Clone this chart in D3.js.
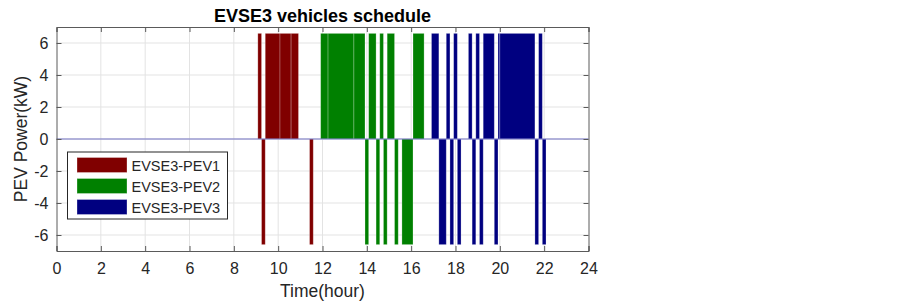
<!DOCTYPE html>
<html>
<head>
<meta charset="utf-8">
<script src="https://cdn.jsdelivr.net/npm/d3@7"></script>
<style>
  body { margin: 0; background: #fff; }
  svg { font-family: "Liberation Sans", Arial, sans-serif; }
</style>
</head>
<body>
<svg id="chart" width="903" height="302"></svg>
<script>
// segments: [start hour, end hour, power kW]
const pev1 = [
  [9.083, 9.25, 6.6], [9.25, 9.417, -6.6], [9.417, 10.083, 6.6],
  [10.083, 10.583, 6.6], [10.583, 10.917, 6.6], [11.417, 11.583, -6.6]
];
const pev2 = [
  [11.917, 12.25, 6.6], [12.25, 13.417, 6.6], [13.417, 13.917, 6.6],
  [13.917, 14.083, -6.6], [14.083, 14.417, 6.6], [14.417, 14.583, -6.6],
  [14.583, 14.75, 6.6], [14.75, 14.917, -6.6], [14.917, 15.25, 6.6],
  [15.25, 15.417, -6.6], [15.583, 16.083, -6.6], [16.083, 16.583, 6.6]
];
const pev3 = [
  [16.917, 17.25, 6.6], [17.25, 17.583, -6.6], [17.583, 17.75, 6.6],
  [17.75, 17.917, -6.6], [17.917, 18.083, 6.6], [18.083, 18.25, -6.6],
  [18.583, 18.75, 6.6], [18.75, 18.917, -6.6], [18.917, 19.083, 6.6],
  [19.083, 19.25, -6.6], [19.25, 19.75, 6.6], [19.75, 19.917, -6.6],
  [19.917, 20.0, 6.6], [20.0, 21.583, 6.6], [21.583, 21.75, -6.6],
  [21.75, 21.917, 6.6], [21.917, 22.083, -6.6]
];
const seriesNames = ["EVSE3-PEV1", "EVSE3-PEV2", "EVSE3-PEV3"];
const seriesColors = ["#800000", "#008000", "#000080"];
const xTicks = [0, 2, 4, 6, 8, 10, 12, 14, 16, 18, 20, 22, 24];
const yTicks = [-6, -4, -2, 0, 2, 4, 6];

const svg = d3.select('#chart');
const margin = { top: 27, left: 56.5, right: 314.5, bottom: 51 };
const width = 903, height = 302;
const innerWidth = width - margin.left - margin.right;
const innerHeight = height - margin.top - margin.bottom;

const xScale = d3.scaleLinear().domain([0, 24]).range([0, innerWidth]);
const yScale = d3.scaleLinear().domain([-7, 7]).range([innerHeight, 0]);

const g = svg.append('g')
  .attr('transform', 'translate(' + margin.left + ',' + margin.top + ')');

// grid
g.append('g').selectAll('line.gx')
  .data(xTicks.slice(1, -1)).enter().append('line')
  .attr('x1', d => xScale(d)).attr('x2', d => xScale(d))
  .attr('y1', 0).attr('y2', innerHeight)
  .attr('stroke', '#e3e3e3').attr('stroke-width', 1);
g.append('g').selectAll('line.gy')
  .data(yTicks).enter().append('line')
  .attr('y1', d => yScale(d)).attr('y2', d => yScale(d))
  .attr('x1', 0).attr('x2', innerWidth)
  .attr('stroke', '#e3e3e3').attr('stroke-width', 1);

// bars
[pev1, pev2, pev3].forEach((segs, i) => {
  g.append('g').selectAll('rect')
    .data(segs).enter().append('rect')
    .attr('x', d => xScale(d[0]))
    .attr('width', d => xScale(d[1]) - xScale(d[0]))
    .attr('y', d => yScale(Math.max(0, d[2])))
    .attr('height', d => Math.abs(yScale(d[2]) - yScale(0)))
    .attr('fill', seriesColors[i])
    .attr('stroke', 'rgba(255,255,255,0.3)')
    .attr('stroke-width', 0.8);
});

// zero line
g.append('line')
  .attr('x1', 0).attr('x2', innerWidth)
  .attr('y1', yScale(0)).attr('y2', yScale(0))
  .attr('stroke', '#7373c4').attr('stroke-width', 1);

// axes (inward ticks, box)
const axisColor = '#262626';
const xAxis = g.append('g').attr('transform', 'translate(0,' + innerHeight + ')')
  .call(d3.axisBottom(xScale).tickValues(xTicks).tickSize(-5).tickPadding(12).tickFormat(d3.format('d')));
const xAxisTop = g.append('g')
  .call(d3.axisTop(xScale).tickValues(xTicks).tickSize(-5).tickFormat(''));
const yAxis = g.append('g')
  .call(d3.axisLeft(yScale).tickValues(yTicks).tickSize(-5).tickPadding(8)
    .tickFormat(d => d < 0 ? '-' + Math.abs(d) : d));
const yAxisRight = g.append('g').attr('transform', 'translate(' + innerWidth + ',0)')
  .call(d3.axisRight(yScale).tickValues(yTicks).tickSize(-5).tickFormat(''));

[xAxis, xAxisTop, yAxis, yAxisRight].forEach(a => {
  a.select('.domain').attr('stroke', '#5a5a5a').attr('stroke-width', 1);
  a.selectAll('.tick line').attr('stroke', '#5a5a5a');
  a.selectAll('text').attr('fill', axisColor).style('font-size', '16px')
    .style('font-family', '"Liberation Sans", Arial, sans-serif');
});

// labels
svg.append('text')
  .attr('x', margin.left + innerWidth / 2).attr('y', 22)
  .attr('text-anchor', 'middle')
  .style('font-weight', 'bold').style('font-size', '18px')
  .attr('fill', '#000')
  .text('EVSE3 vehicles schedule');
svg.append('text')
  .attr('x', margin.left + innerWidth / 2).attr('y', 297)
  .attr('text-anchor', 'middle')
  .style('font-size', '17.5px').attr('fill', axisColor)
  .text('Time(hour)');
svg.append('text')
  .attr('transform', 'rotate(-90)')
  .attr('x', -(margin.top + innerHeight / 2)).attr('y', 27)
  .attr('text-anchor', 'middle')
  .style('font-size', '17.5px').attr('fill', axisColor)
  .text('PEV Power(kW)');

// legend
const legend = svg.append('g').attr('transform', 'translate(67.5,152)');
legend.append('rect')
  .attr('width', 160).attr('height', 67)
  .attr('fill', '#fff').attr('stroke', '#262626').attr('stroke-width', 1);
seriesNames.forEach((name, i) => {
  const row = legend.append('g').attr('transform', 'translate(0,' + (13 + i * 21) + ')');
  row.append('rect')
    .attr('x', 9.5).attr('y', -7.5).attr('width', 50).attr('height', 15)
    .attr('fill', seriesColors[i])
    .attr('stroke', 'rgba(255,255,255,0.3)');
  row.append('text')
    .attr('x', 64).attr('y', 5.5)
    .style('font-size', '14.5px').attr('fill', axisColor)
    .text(name);
});
</script>
</body>
</html>
